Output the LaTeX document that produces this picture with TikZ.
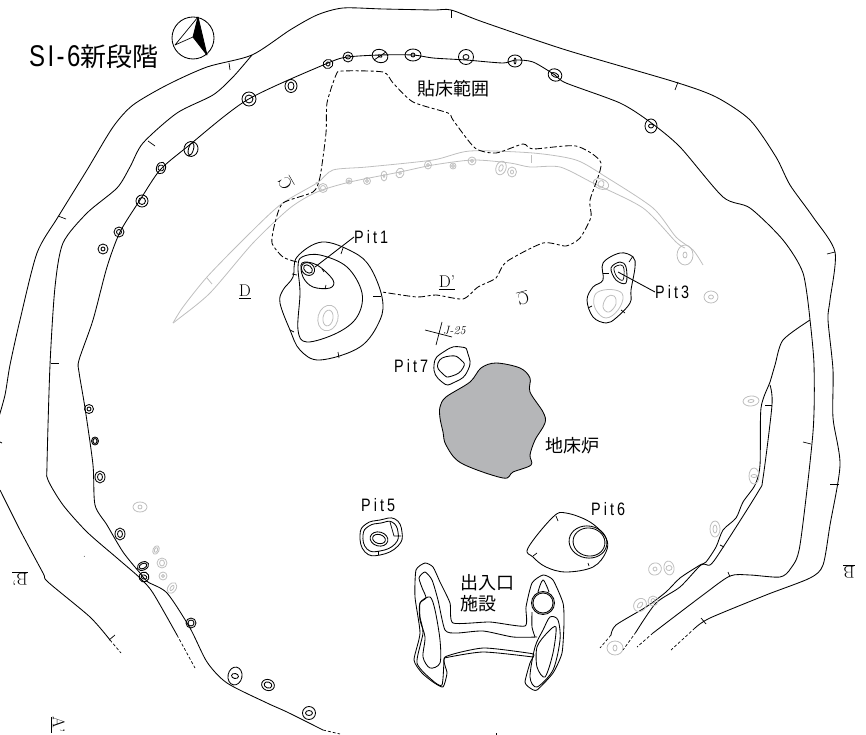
\documentclass[tikz,border=0pt]{standalone}
\usepackage{fontspec}
\newfontfamily\jpfont{Noto Sans CJK JP}
\newfontfamily\pitfont[LetterSpace=17,FakeStretch=.8]{Liberation Sans}
\newfontfamily\titlefont[LetterSpace=8,FakeStretch=.8]{Liberation Sans}
\definecolor{hearthgray}{HTML}{B5B6B8}
\definecolor{faintgray}{HTML}{BEBEBE}
\tikzset{
  wall/.style={line width=.85pt,black,line join=round},
  faint/.style={line width=.8pt,faintgray,line join=round},
  edgedash/.style={line width=.85pt,dash pattern=on 7pt off 2.5pt on 3pt off 2.5pt},
  enddash/.style={line width=.7pt,dash pattern=on 3pt off 2pt},
  pitlabel/.style={font=\fontsize{18}{20}\selectfont\pitfont,inner sep=0pt},
  jplabel/.style={font=\fontsize{18}{21}\selectfont\jpfont,inner sep=0pt,align=left},
  marklabel/.style={font=\fontsize{17}{19}\selectfont,inner sep=0pt},
}
\begin{document}
\begin{tikzpicture}[x=1pt,y=-1pt]
\useasboundingbox (0,0) rectangle (866,735);
% outer line
\draw[wall] plot[smooth,tension=.45] coordinates {(110,640)(90,617)(48,582)(43,573)(20,530)(0,490)};
\draw[wall] plot[smooth,tension=.45] coordinates {(-2,420)(5,395)(10,365)(20,320)(37,253)(58,217)(87,170)(113,127)(133,105)(167,85)(207,67)(252,55)(290,30)(317,15)(343,8)(383,9)(433,10)(451,10)(483,22)(566,50)(675,82)(716,97)(750,120)(776,157)(790,185)(813,217)(835,252)(830,300)(828,320)(833,370)(833,418)(840,465)(830,525)(823,565)(810,578)(766,595)(710,618)(695,628)};
\draw[enddash] (110,640) -- (121,653);
\draw[enddash] (695,628) -- (671,650);
% second line
\draw[wall] plot[smooth,tension=.45] coordinates {(177,635)(153,593)(140,578)(117,558)(87,532)(63,505)(48,480)(47,465)(50,365)(55,287)(63,243)(87,213)(117,188)(130,167)(143,143)(177,113)(213,95)(233,77)(252,55)};
\draw[enddash] (177,635) -- (195,668);
\draw[wall] plot[smooth,tension=.45] coordinates {(810,320)(814,365)(813,432)(800,545)(791,568)(780,577)(750,575)(730,576)(703,595)(653,633)};
\draw[enddash] (653,633) -- (637,647);
% wall foot
\draw[wall] plot[smooth,tension=.45] coordinates {(323,730)(287,712)(267,703)(227,683)(207,662)(190,628)(167,593)(148,582)(140,573)(123,552)(107,525)(95,505)(93,465)(85,408)(79,372)(79,360)(93,320)(107,267)(120,232)(140,200)(160,170)(187,147)(247,100)(328,63)(348,57)(380,55)(413,55)(433,58)(466,60)(503,63)(515,60)(533,62)(555,75)(566,83)(620,103)(650,122)(680,147)(723,197)(750,208)(783,240)(803,273)(810,320)};
\draw[enddash] (323,730) -- (340,734);
\draw[wall] plot[smooth,tension=.45] coordinates {(810,320)(783,340)(775,365)(770,382)(761,408)(760,465)(755,485)(743,502)(736,518)(723,530)(716,547)(706,562)(700,565)(680,578)(666,592)(646,607)(616,625)(611,635)};
\draw[enddash] (611,635) -- (600,648);
\draw[wall] plot[smooth,tension=.45] coordinates {(770,385)(772,405)(763,478)(758,492)(720,552)(710,565)(701,565)(680,587)(656,603)(636,632)};
\draw[enddash] (636,632) -- (623,650);
% ticks
\foreach \xa/\ya/\xb/\yb in {229/63/230/70,148/141/155/146,58/216/66/219,51/363/59/363,451/10/451/18,678/82/675/90,835/252/827/254,0/442/2/443,115/635/109/640,772/405/765/405,811/444/803/442,839/484/830/484,728/572/730/577,701/618/706/624,720/545/724/547,496/733/496/735,84/556/84.5/556.5}
  \draw[wall,line width=.7pt] (\xa,\ya) -- (\xb,\yb);
% gray band
\draw[faint] plot[smooth,tension=.45] coordinates {(173,323)(183,307)(207,277)(243,240)(280,205)(317,183)(333,170)(367,167)(433,160)(470,151)(533,153)(576,160)(606,177)(653,208)(676,237)(693,250)(703,265)};
\draw[faint] plot[smooth,tension=.45] coordinates {(173,323)(177,320)(210,293)(253,243)(290,208)(317,192)(350,182)(400,172)(433,165)(473,160)(510,163)(530,167)(560,167)(593,183)(643,208)(676,242)(685,248)};
\foreach \xa/\ya/\xb/\yb in {207/278/212/284,316/182/320/190,531/155/531/163}
  \draw[faint] (\xa,\ya) -- (\xb,\yb);
% holes
\foreach \hx/\hy/\ra/\rb/\ang/\rc/\rd in {328/64/5/4.5/20/2/2,348/57/5/5/0/2.5/2,380/56/8/6.5/-20/2/1,413/55/8/6/0/2/2,291/86/6/6.5/0/3/4,249/99/7/7/0/4/4,191/149/7/7.5/-15/2.5/6.5,161/168/4.5/6/-20/3/3,142/201/6/6/0/3.5/3.5,119/232/5/5/0/2.5/2.5,103/249/5/5/0/2/2,466/57/7.5/7.5/0/3/2.5,515/61/7/6/0/1/3,555/75/7/6/-25/4/2,651/126/6/7/0/2.5/2,89/409/4.5/4.5/0/2/2,95/441/3.5/4/0/2/2.5,100/477/5/6/0/2.5/3.5,120/534/5/6/0/2.5/3.5,143/566/6/4/25/4/2.5,144/577/5/5/-20/3/2,191/623/5/5/0/3/3,235/676/7/9/-10/3.5/2.5,268/685/6.5/5.5/-20/4/3,309/713/6.5/6.5/0/3.5/2.5}
  \draw[wall] (\hx,\hy) circle [x radius=\ra pt,y radius=\rb pt,rotate=\ang] circle [x radius=\rc pt,y radius=\rd pt,rotate=\ang];
% slash in hole
\draw[wall,line width=.7pt] (374,60) -- (386,52);
% gray holes
\foreach \hx/\hy/\ra/\rb/\ang/\rc/\rd in {140/507/7/5/0/2/2,156/550/3/4.5/-25/1.5/2.5,162/563/5/5/0/2.5/3,163/576/4/4/0/1.5/1.5,172/588/4/6/-35/1.5/3,323/188/4.5/4.5/0/2.5/2.5,349/181/3/3/0/1.5/1,367/181/3.5/3.5/0/1.5/1.5,384/176/3/5/0/1/1.5,400/173/4/5/-20/1.5/1.5,428/165/3.5/4/0/1.5/1.5,453/166/3/3/0/1.5/1.5,472/161/4/4/0/1.5/1.5,501/168/5/7/-20/2/3.5,512/172/4.5/5/0/1.5/2,601/184/8/5/-20/3/3.5,685/255/8/10/0/2/3,711/297/7/6/0/2.5/2,751/401/8/5/5/3/1.5,754/476/5/8/0/3/1.5,715/529/5/8/0/2/4,655/569/6.5/6/30/2/2,669/568/5/7/10/3/2.5,640/605/6/7/-40/2/3.5,653/601/5/5/0/2/2.5,615/648/8/7/0/2/3}
  \draw[faint] (\hx,\hy) circle [x radius=\ra pt,y radius=\rb pt,rotate=\ang] circle [x radius=\rc pt,y radius=\rd pt,rotate=\ang];
% floor edge
\draw[edgedash] plot[smooth,tension=.4] coordinates {(297,262)(283,257)(272,243)(275,223)(283,203)(313,192)(320,177)(326,133)(327,103)(336,75)(342,71)(383,72)(393,83)(413,102)(448,113)(453,120)(475,148)(496,153)(523,144)(533,149)(576,146)(601,163)(590,200)(591,217)(580,238)(566,246)(543,243)(506,262)(496,278)(478,287)(463,299)(436,295)(417,297)(382,292)};
% Pit1
\draw[wall] plot[smooth cycle,tension=.6] coordinates {(322,242)(353,252)(370,267)(382,297)(380,320)(360,347)(320,360)(300,350)(290,330)(280,303)(283,290)(293,277)(297,257)};
\draw[wall] plot[smooth cycle,tension=.6] coordinates {(302,257)(320,255)(347,267)(362,293)(357,317)(337,333)(307,342)(298,330)(300,293)(298,267)};
\draw[wall] plot[smooth cycle,tension=.6] coordinates {(302,263)(317,265)(333,280)(330,288)(313,287)(303,277)};
\draw[wall] (308,269) circle [x radius=7pt,y radius=6pt,rotate=-40] circle [x radius=5pt,y radius=3.5pt,rotate=-40];
\draw[faint] (328,318) circle [x radius=10pt,y radius=13pt,rotate=-15] circle [x radius=5pt,y radius=8pt,rotate=-10];
\foreach \xa/\ya/\xb/\yb in {343/248/341/254,381/296/373/296,338/352/339/358,290/330/294/332,292/274/297/275,322/269/324/272,326/285/325/289}
  \draw[wall,line width=.7pt] (\xa,\ya) -- (\xb,\yb);
% Pit3
\draw[wall] plot[smooth cycle,tension=.6] coordinates {(620,253)(633,257)(635,267)(631,290)(630,303)(616,318)(606,323)(593,317)(587,300)(593,287)(603,280)(603,263)};
\draw[wall] plot[smooth cycle,tension=.6] coordinates {(620,262)(626,267)(626,283)(616,280)(611,268)};
\draw[wall,line width=.7pt] plot[smooth cycle,tension=.6] coordinates {(621,265)(624,269)(623,280)(617,277)(614,268)};
\draw[faint] plot[smooth cycle,tension=.7] coordinates {(600,291)(615,290)(623,296)(618,310)(606,318)(596,310)(594,298)};
\draw[faint] plot[smooth cycle,tension=.7] coordinates {(607,297)(614,296)(616,304)(609,312)(603,307)};
\foreach \xa/\ya/\xb/\yb in {633/256/629/262,603/273/609/273,588/308/592/306,625/313/621/310}
  \draw[wall,line width=.7pt] (\xa,\ya) -- (\xb,\yb);
% Pit7
\draw[wall] plot[smooth cycle,tension=1] coordinates {(434,365)(445,351)(461,347)(468,354)(468,370)(455,382)(442,382)};
\draw[wall] plot[smooth cycle,tension=1] coordinates {(438,363)(450,356)(461,360)(463,368)(452,376)(443,374)};
\draw[wall,line width=.7pt] (442,322) -- (436,345);
\draw[wall,line width=.7pt] (425,330) -- (452,337);
% Hearth
\draw[wall,fill=hearthgray] plot[smooth cycle,tension=.55] coordinates {(440,407)(446,397)(470,382)(481,368)(496,363)(520,368)(530,378)(530,392)(543,412)(545,423)(535,440)(530,455)(531,465)(513,472)(503,478)(461,463)(446,445)(443,432)(440,418)};
% Pit5
\draw[wall] plot[smooth cycle,tension=.8] coordinates {(360,535)(366,524)(380,520)(395,519)(402,532)(398,546)(380,555)(365,552)};
\draw[wall] plot[smooth cycle,tension=.8] coordinates {(363,535)(369,526)(381,523)(392,522)(398,532)(395,544)(380,551)(367,549)};
\draw[wall] (379,539) circle [x radius=9pt,y radius=7pt,rotate=-15] circle [x radius=6.5pt,y radius=4.5pt,rotate=-15];
\draw[wall,line width=.7pt] (390,522) -- (394,536) -- (401,536);
\draw[wall,line width=.7pt] (378,551) -- (378,555);
% Pit6
\draw[wall] plot[smooth cycle,tension=.6] coordinates {(528,548)(553,517)(566,513)(590,522)(606,538)(606,552)(593,567)(566,572)(546,567)(533,557)};
\draw[wall] (588,542) circle [x radius=19pt,y radius=16pt,rotate=-10];
\draw[wall] (589,542) circle [x radius=16pt,y radius=14pt,rotate=-10];
\foreach \xa/\ya/\xb/\yb in {556/516/558/521,533/556/537/553,589/566/588/563}
  \draw[wall,line width=.7pt] (\xa,\ya) -- (\xb,\yb);
% entrance
\draw[wall] plot[smooth cycle,tension=.35] coordinates {(425,563)(433,567)(440,582)(450,603)(453,623)(490,622)(525,626)(526,607)(532,583)(543,575)(553,580)(563,603)(564,623)(562,653)(553,673)(537,690)(530,688)(525,682)(530,663)(534,655)(528,653)(483,648)(445,657)(447,673)(443,687)(433,682)(422,673)(414,660)(420,633)(415,597)(416,570)};
\draw[wall] plot[smooth,tension=.4] coordinates {(423,590)(419,578)(425,572)(432,580)(438,600)(445,630)(457,633)(483,631)(513,637)(537,637)};
\draw[wall] plot[smooth,tension=.4] coordinates {(423,590)(426,598)(420,603)(420,617)(423,633)(417,663)(432,680)(442,685)(444,658)};
\draw[wall] plot[smooth,tension=.4] coordinates {(444,658)(483,652)(533,657)};
\draw[wall] plot[smooth cycle,tension=.5] coordinates {(420,603)(430,597)(435,610)(440,640)(440,663)(430,668)(423,657)(425,637)(420,620)};
\draw[wall] (543,603) circle [radius=11.5pt] circle [radius=10pt];
\draw[wall] plot[smooth,tension=.6] coordinates {(538,592)(543,580)(549,592)};
\draw[wall] plot[smooth,tension=.4] coordinates {(532,612)(532,627)(535,637)};
\draw[wall] plot[smooth cycle,tension=.5] coordinates {(550,617)(558,620)(560,640)(553,670)(537,687)(530,677)(535,647)(543,630)};
\draw[wall] plot[smooth cycle,tension=.5] coordinates {(556,627)(553,653)(545,677)(537,667)(537,647)(547,633)};
% north mark
\draw[wall] (193,38) circle [radius=21pt];
\draw[wall,line width=.7pt] (198,17) -- (175,45) -- (193,37);
\draw[wall,fill=black] (198,17) -- (207,55) -- (193,37) -- cycle;
% labels
\node[inner sep=0pt,anchor=west] (title) at (29,57) {\fontsize{30}{32}\selectfont\titlefont SI-6\fontsize{26}{28}\selectfont\jpfont 新段階};
\node[jplabel,anchor=west] (floorlabel) at (417,89) {貼床範囲};
\node[jplabel,anchor=west] (hearthlabel) at (545,446) {地床炉};
\node[jplabel,anchor=north west] (entrancelabel) at (460,574) {出入口\\施設};
\node[pitlabel,anchor=west] (pita) at (354,237) {Pit1};
\node[pitlabel,anchor=west] (pitc) at (655,292) {Pit3};
\node[pitlabel,anchor=west] (pitg) at (394,366) {Pit7};
\node[pitlabel,anchor=west] (pite) at (361,505) {Pit5};
\node[pitlabel,anchor=west] (pitf) at (591,509) {Pit6};
\coordinate (pitahole) at (315,267);
\coordinate (pitchole) at (618,272);
\draw[wall] (pita.west) -- (pitahole);
\draw[wall] (pitc.west) -- (pitchole);
\node[marklabel] (dmark) at (245,292) {\underline{D}};
\node[marklabel] (dprime) at (447,283) {\underline{D'}};
\node[marklabel,rotate=120] (cmarka) at (286,183) {\underline{C}};
\node[marklabel,rotate=195] (cmarkb) at (523,298) {\underline{C}};
\node[marklabel,rotate=180] (bprime) at (20,578) {\underline{B'}};
\node[marklabel,rotate=180] (bmark) at (849,571) {\underline{B}};
\node[marklabel,rotate=-90] (aprime) at (58,725) {\underline{A'}};
\node[inner sep=0pt,anchor=west] (gridmark) at (443,331) {\fontsize{12}{13}\selectfont\itshape J-25};
\end{tikzpicture}
\end{document}
